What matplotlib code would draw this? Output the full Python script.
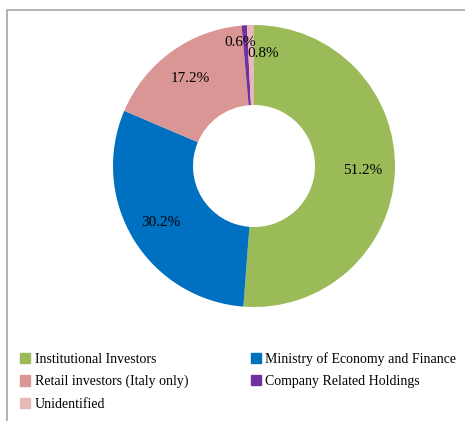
import matplotlib.pyplot as plt
import numpy as np

labels = ['Institutional Investors', 'Ministry of Economy and Finance',
          'Retail investors (Italy only)', 'Company Related Holdings', 'Unidentified']
values = [51.2, 30.2, 17.2, 0.6, 0.8]
colors = ['#9BBB59', '#0070C0', '#DA9694', '#7030A0', '#E6B9B8']

plt.rcParams['font.family'] = ['Liberation Serif', 'DejaVu Serif']

fig = plt.figure(figsize=(4.65, 4.21), dpi=100)

# grey frame round the chart area (runs off right/bottom like the screenshot)
frame = plt.Rectangle((6.5 / 465, -0.05), 1.1, 1 - 9.5 / 421 + 0.05, transform=fig.transFigure,
                      fill=False, edgecolor='#A6A6A6', linewidth=1.2)
fig.add_artist(frame)

ax = fig.add_axes([(254 - 141) / 465, (255 - 141) / 421, 282 / 465, 282 / 421])
wedges, _ = ax.pie(values, colors=colors, startangle=90, counterclock=False,
                   radius=1.0, wedgeprops=dict(width=80 / 141, linewidth=0))
ax.set_xlim(-1, 1)
ax.set_ylim(-1, 1)
ax.set_aspect('equal')
ax.axis('off')

# label offsets (data units) for the thin slices at the top
offsets = {3: (-0.045, 0.11), 4: (0.085, 0.03)}
r_lab = 0.77
for i, w in enumerate(wedges):
    ang = np.deg2rad((w.theta1 + w.theta2) / 2)
    x, y = r_lab * np.cos(ang), r_lab * np.sin(ang)
    dx, dy = offsets.get(i, (0, 0))
    ax.text(x + dx, y + dy, f'{values[i]:.1f}%', ha='center', va='center',
            fontsize=11, color='#000000')

handles = [plt.Rectangle((0, 0), 1, 1, color=c) for c in colors]
# legend fills by column, reference reads row by row
order = [0, 2, 4, 1, 3]
fig.legend([handles[i] for i in order], [labels[i] for i in order], ncol=2,
           loc='upper left', bbox_to_anchor=(20 / 465, 1 - 352 / 421),
           frameon=False, fontsize=10, handlelength=0.75, handleheight=0.75,
           handletextpad=0.3, columnspacing=4.5, labelspacing=0.66,
           borderaxespad=0, borderpad=0)

fig.savefig('out.png', dpi=100)
